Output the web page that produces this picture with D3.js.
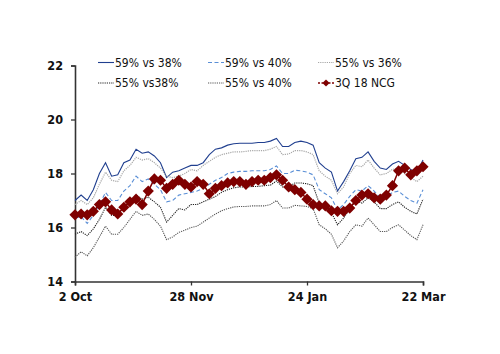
<!DOCTYPE html>
<html><head><meta charset="utf-8">
<script src="https://cdn.jsdelivr.net/npm/d3@7"></script>
<style>
html,body{margin:0;padding:0;background:#fff;}
svg{display:block;}
text{font-family:"DejaVu Sans Condensed","DejaVu Sans",sans-serif;}
</style></head>
<body><svg id="c" width="500" height="354"></svg>
<script>
const dates = ["2018-10-02","2018-10-05","2018-10-08","2018-10-11","2018-10-14","2018-10-17","2018-10-20","2018-10-23","2018-10-26","2018-10-29",
"2018-11-01","2018-11-04","2018-11-07","2018-11-10","2018-11-13","2018-11-16","2018-11-19","2018-11-22","2018-11-25","2018-11-28",
"2018-12-01","2018-12-04","2018-12-07","2018-12-10","2018-12-13","2018-12-16","2018-12-19","2018-12-22","2018-12-25","2018-12-28","2018-12-31",
"2019-01-03","2019-01-06","2019-01-09","2019-01-12","2019-01-15","2019-01-18","2019-01-21","2019-01-24","2019-01-27","2019-01-30",
"2019-02-02","2019-02-05","2019-02-08","2019-02-11","2019-02-14","2019-02-17","2019-02-20","2019-02-23","2019-02-26",
"2019-03-01","2019-03-04","2019-03-07","2019-03-10","2019-03-13","2019-03-16","2019-03-19","2019-03-22"];

const s59vs38 = [17.0,17.2,17.0,17.4,18.0,18.4,17.9,17.95,18.4,18.5,
18.9,18.75,18.8,18.65,18.4,17.85,18.05,18.1,18.2,18.3,
18.3,18.4,18.7,18.9,18.95,19.05,19.1,19.12,19.12,19.12,
19.15,19.15,19.2,19.3,19.0,19.0,19.15,19.2,19.15,19.05,
18.4,18.2,18.05,17.35,17.7,18.1,18.55,18.6,18.8,18.45,
18.2,18.15,18.35,18.45,18.3,18.15,18.05,18.5];

const s59vs40 = [16.35,16.4,16.15,16.45,16.85,17.3,17.0,17.0,17.35,17.55,
17.9,17.7,17.8,17.6,17.4,16.95,17.0,17.2,17.25,17.3,
17.35,17.45,17.6,17.75,17.85,18.0,18.05,18.08,18.08,18.1,
18.1,18.1,18.15,18.28,18.0,18.0,18.12,18.1,18.05,17.95,
17.4,17.25,17.1,16.65,16.85,17.15,17.4,17.35,17.55,17.35,
17.1,17.15,17.3,17.35,17.15,17.0,16.9,17.4];

const s55vs36 = [16.85,17.0,16.85,17.1,17.6,18.05,17.75,17.7,18.1,18.3,
18.6,18.5,18.55,18.4,18.2,17.9,17.85,17.9,18.0,18.15,
18.1,18.3,18.45,18.6,18.7,18.75,18.8,18.8,18.82,18.85,
18.85,18.85,18.9,19.0,18.7,18.72,18.85,18.85,18.8,18.7,
18.1,17.9,17.75,17.25,17.5,18.0,18.3,18.25,18.5,18.2,
17.95,18.0,18.15,18.2,18.0,17.85,17.7,17.9];

const s55vs38 = [15.75,15.85,15.7,15.95,16.3,16.75,16.45,16.45,16.75,16.95,
17.2,17.05,17.12,16.95,16.75,16.2,16.45,16.7,16.65,16.85,
16.85,16.95,17.05,17.15,17.3,17.4,17.47,17.5,17.5,17.52,
17.52,17.55,17.57,17.72,17.5,17.5,17.65,17.65,17.62,17.55,
16.9,16.7,16.55,16.1,16.35,16.7,17.0,16.9,17.1,16.95,
16.7,16.7,16.85,16.95,16.75,16.6,16.5,17.05];

const s55vs40 = [14.9,15.1,14.95,15.25,15.65,16.05,15.75,15.75,16.0,16.3,
16.6,16.45,16.5,16.3,16.05,15.55,15.65,15.82,15.9,16.0,
16.05,16.2,16.35,16.5,16.62,16.7,16.76,16.78,16.78,16.8,
16.8,16.8,16.85,17.0,16.72,16.72,16.82,16.8,16.78,16.7,
16.1,15.95,15.75,15.25,15.5,15.85,16.1,16.05,16.35,16.1,
15.85,15.85,16.0,16.1,15.9,15.7,15.55,16.1];

const ncg3q18 = [16.47,16.5,16.47,16.6,16.85,16.95,16.65,16.5,16.75,16.95,
17.05,16.85,17.35,17.8,17.75,17.45,17.6,17.75,17.6,17.5,
17.7,17.6,17.25,17.45,17.55,17.65,17.7,17.7,17.6,17.7,
17.75,17.75,17.85,17.95,17.75,17.5,17.4,17.3,17.05,16.85,
16.8,16.8,16.62,16.6,16.6,16.72,17.0,17.2,17.25,17.1,
17.05,17.2,17.55,18.1,18.2,17.95,18.1,18.25];

const seriesNames = ["59% vs 38%","59% vs 40%","55% vs 36%","55% vs38%","55% vs 40%","3Q 18 NCG"];
const xTickDates = ["2018-10-02","2018-11-28","2019-01-24","2019-03-22"];
const xTickLabels = ["2 Oct","28 Nov","24 Jan","22 Mar"];
const yTicks = [14,16,18,20,22];

const parse = d3.utcParse("%Y-%m-%d");
const X = dates.map(parse);
const svg = d3.select("#c");
const x = d3.scaleUtc().domain([parse("2018-10-02"), parse("2019-03-22")]).range([75, 423]);
const y = d3.scaleLinear().domain([14, 22]).range([281.5, 65.5]);

const styles = [
  {data:s59vs38, color:"#203f8f", dash:null, w:1.1},
  {data:s59vs40, color:"#5a8fd6", dash:"4,2.5", w:1.1},
  {data:s55vs36, color:"#a8a8a8", dash:"1.2,1", w:1.2},
  {data:s55vs38, color:"#222222", dash:"1.2,1", w:1.1},
  {data:s55vs40, color:"#555555", dash:"1.2,1", w:1.1}
];
const ncgColor = "#7f0000";

// axes
const yAxis = d3.axisLeft(y).tickValues(yTicks).tickSize(4).tickPadding(8).tickFormat(d3.format("d"));
const gy = svg.append("g").attr("transform","translate(75,0)").call(yAxis);
gy.select(".domain").attr("stroke","#333").attr("stroke-width",1.6);
gy.selectAll(".tick line").attr("stroke","#333").attr("stroke-width",1.3);
gy.selectAll(".tick text").attr("font-size",12.5).attr("font-weight","bold").attr("fill","#111");

const xAxis = d3.axisBottom(x).tickValues(xTickDates.map(parse)).tickSize(4).tickPadding(7)
  .tickFormat((d,i)=>xTickLabels[i]);
const gx = svg.append("g").attr("transform","translate(0,281.5)").call(xAxis);
gx.select(".domain").attr("stroke","#333").attr("stroke-width",1.6);
gx.selectAll(".tick line").attr("stroke","#333").attr("stroke-width",1.3);
gx.selectAll(".tick text").attr("font-size",12.5).attr("font-weight","bold").attr("fill","#111");

// lines
const line = d3.line().x((d,i)=>x(X[i])).y(d=>y(d));
styles.forEach(s=>{
  svg.append("path").attr("d", line(s.data)).attr("fill","none")
    .attr("stroke", s.color).attr("stroke-width", s.w)
    .attr("stroke-dasharray", s.dash);
});
svg.append("path").attr("d", line(ncg3q18)).attr("fill","none").attr("stroke",ncgColor).attr("stroke-width",1.5);
const r = 5.6;
const diamond = `M0,${-r}L${r},0L0,${r}L${-r},0Z`;
svg.append("g").selectAll("path").data(ncg3q18).join("path")
  .attr("d", diamond).attr("transform",(d,i)=>`translate(${x(X[i])},${y(d)})`)
  .attr("fill", ncgColor);

// legend
const legendPos = [[98,62.5],[208,62.5],[318,62.5],[98,83],[208,83],[318,83]];
const legendOrder = [0,1,2,3,4];
legendOrder.forEach((si,k)=>{
  const [lx,ly] = legendPos[k]; const s = styles[si];
  svg.append("line").attr("x1",lx).attr("x2",lx+16).attr("y1",ly).attr("y2",ly)
    .attr("stroke",s.color).attr("stroke-width",s.w).attr("stroke-dasharray",s.dash);
  svg.append("text").attr("x",lx+17).attr("y",ly).attr("dy","0.36em")
    .attr("font-size",12).attr("fill","#111").text(seriesNames[si]);
});
{
  const [lx,ly] = legendPos[5];
  svg.append("line").attr("x1",lx).attr("x2",lx+16).attr("y1",ly).attr("y2",ly)
    .attr("stroke",ncgColor).attr("stroke-width",1.3).attr("stroke-dasharray","2,1.5");
  svg.append("path").attr("d", `M0,-3.6L3.6,0L0,3.6L-3.6,0Z`).attr("transform",`translate(${lx+8},${ly})`).attr("fill",ncgColor);
  svg.append("text").attr("x",lx+17).attr("y",ly).attr("dy","0.36em")
    .attr("font-size",12).attr("fill","#111").text(seriesNames[5]);
}
</script></body></html>
